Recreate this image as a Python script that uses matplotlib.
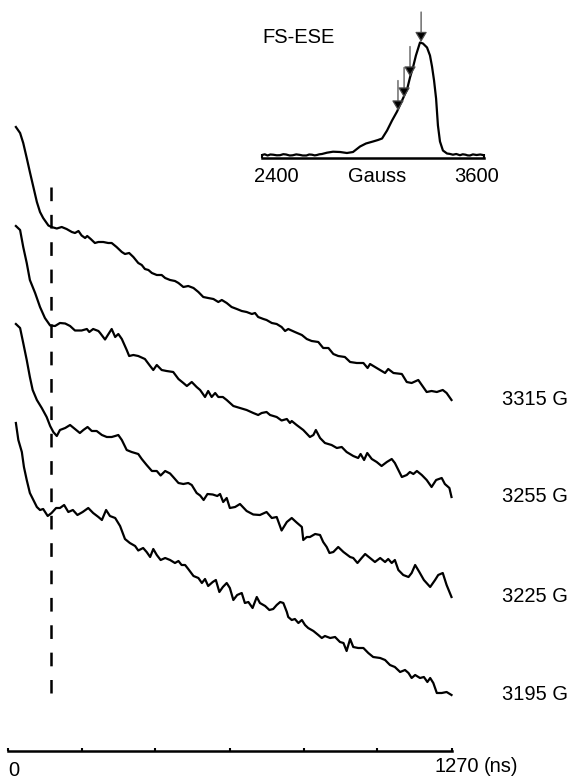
import numpy as np
import matplotlib
matplotlib.use('Agg')
import matplotlib.pyplot as plt

plt.rcParams['font.family'] = ['Liberation Sans', 'DejaVu Sans']
plt.rcParams['lines.scale_dashes'] = False

# ---------------- data ----------------
field_labels = ['3315 G', '3255 G', '3225 G', '3195 G']
trace_offsets = [351, 254, 154, 56]          # a.u. (stacking offsets)

t_3315 = [24, 36, 45, 55, 64, 74, 84, 93, 102, 117, 126, 141, 155, 169, 184, 193, 203, 212, 222, 228,
          238, 250, 260, 274, 288, 298, 312, 327, 336, 348, 360, 374, 384, 393, 403, 413, 427, 441, 451, 465,
          479, 489, 503, 517, 532, 546, 560, 574, 589, 603, 613, 627, 641, 656, 670, 684, 699, 708, 717, 732,
          741, 756, 770, 784, 794, 803, 822, 842, 856, 870, 889, 903, 918, 932, 946, 965, 980, 999, 1018, 1030,
          1037, 1056, 1080, 1089, 1104, 1128, 1142, 1156, 1175, 1189, 1199, 1213, 1228, 1245, 1256, 1270]
v_3315 = [273, 267, 257, 242, 228, 213, 198, 188, 182, 174.5, 173, 171.5, 173, 171, 168, 167, 169, 164.5, 162, 164,
          161, 157, 158, 158, 157, 157, 153, 148, 146, 147, 143, 137, 135, 131, 130, 127, 125, 125, 122, 120,
          119, 117, 113, 114, 112, 108, 103, 102, 101, 98, 100, 97, 93, 91, 89, 88, 86, 87, 83, 81,
          80, 77, 76, 73, 69, 71, 68, 65, 61, 59, 58, 52, 52, 46, 44, 43, 38, 37, 37, 32,
          36, 32, 27, 31, 27, 26, 18, 17, 20, 13, 8, 9, 8, 10, 7, 0]

t_3255 = [24, 36, 45, 55, 64, 79, 93, 107, 122, 136, 150, 165, 179, 193, 212, 227, 234, 245, 260, 265,
          279, 288, 298, 308, 317, 327, 341, 348, 360, 374, 393, 408, 417, 427, 441, 455, 474, 489, 503, 513,
          527, 541, 551, 565, 574, 584, 594, 603, 616, 627, 646, 665, 684, 703, 717, 727, 741, 751, 770, 784,
          799, 808, 813, 827, 846, 865, 875, 882, 894, 908, 927, 942, 956, 970, 989, 1003, 1010, 1020, 1029, 1042,
          1056, 1070, 1085, 1099, 1108, 1118, 1128, 1142, 1151, 1161, 1171, 1185, 1199, 1213, 1226, 1242, 1251, 1264, 1270]
v_3255 = [271, 267, 250, 234, 217, 204, 190, 179, 171.5, 171, 174, 173.5, 171, 166.5, 166.5, 168, 165, 168, 166, 164,
          157.5, 162.5, 168, 160, 163, 158, 147, 141, 142, 141, 138, 131, 127, 132, 127, 126, 125, 118, 114, 111,
          115, 110, 107, 100, 106, 100, 104, 100, 100, 97, 91, 89, 87, 84, 82, 84, 85, 82, 80, 76.5,
          78, 74, 76, 72, 67, 60, 62, 67, 59, 54, 52, 49, 50, 45, 41, 39, 43, 37, 44, 38,
          35, 31, 35, 38, 34, 27, 20, 22, 25, 23, 26, 22, 17, 10, 17, 19, 13, 9, 0]

t_3225 = [24, 36, 45, 55, 64, 72, 84, 98, 112, 122, 131, 141, 150, 165, 179, 193, 207, 217, 229, 241,
          255, 270, 284, 298, 308, 317, 327, 341, 355, 374, 384, 398, 413, 427, 438, 451, 465, 474, 489, 503,
          517, 527, 541, 551, 561, 572, 587, 600, 608, 617, 627, 636, 651, 665, 684, 703, 722, 741, 756, 770,
          784, 799, 813, 827, 842, 846, 856, 865, 880, 894, 903, 913, 921, 932, 946, 961, 980, 989, 1001, 1013,
          1023, 1037, 1051, 1066, 1080, 1089, 1099, 1108, 1118, 1132, 1147, 1156, 1166, 1178, 1191, 1209, 1223, 1232, 1245, 1256,
          1270]
v_3225 = [273, 269, 254, 237, 220, 207, 197, 189, 180, 171, 165, 161, 167, 169, 172, 168, 164, 167, 170, 166,
          166, 162, 160, 160, 161, 162, 157, 147, 145, 143, 138, 132, 126, 126, 121.5, 126, 123.5, 120, 114, 113,
          114, 112, 104, 101.5, 97, 103, 102.5, 101, 103, 95, 99, 89, 90, 93, 86, 82.5, 82, 85, 79, 80,
          66.5, 75, 79, 74.5, 70, 57, 60, 60, 63, 62, 55, 50, 44, 45, 50, 45, 40, 39, 34, 39,
          43, 39, 35, 39, 35, 38, 34, 37, 27, 22, 20, 24, 32, 25, 17, 10, 17, 22, 24, 12,
          0]

t_3195 = [24, 31, 41, 47, 55, 64, 74, 84, 93, 102, 115, 126, 139, 150, 162, 174, 187, 200, 215, 231,
          245, 260, 270, 282, 293, 308, 322, 336, 350, 365, 374, 388, 398, 408, 417, 427, 438, 451, 465, 479,
          489, 498, 508, 517, 532, 546, 556, 565, 574, 587, 596, 606, 616, 627, 636, 646, 657, 670, 679, 689,
          701, 713, 722, 737, 749, 760, 770, 780, 789, 799, 803, 813, 822, 832, 842, 851, 860, 875, 889, 899,
          908, 923, 937, 951, 961, 970, 980, 989, 1003, 1018, 1032, 1046, 1066, 1080, 1094, 1108, 1123, 1137, 1147, 1156,
          1166, 1180, 1191, 1201, 1209, 1218, 1228, 1242, 1256, 1270]
v_3195 = [272, 255, 243, 228, 215, 202, 195, 188, 185, 186, 179, 182, 187, 187, 190, 183, 185, 180, 183, 187,
          182, 178, 175, 185, 179, 177, 169, 156, 152, 149, 144.5, 147, 143, 138, 146, 140, 135, 137, 135, 132,
          134, 130, 130, 126, 119, 117, 112, 116, 109, 113, 115, 103, 108, 112, 107, 95, 100, 102, 92, 93,
          87, 98, 92, 89, 85, 86, 90, 93, 92, 83, 78, 75, 76, 72, 75, 70, 67, 64, 60, 57,
          59, 57, 58, 53, 52, 44, 56, 48, 47, 47, 42, 38, 37, 35, 30, 28, 23, 25, 22, 17,
          20, 17, 18, 13, 17, 12, 2, 2, 3, 0]

dash_time = 124            # ns
dash_span = [58, 564]      # a.u.
time_ticks = [0, 211.67, 423.33, 635, 846.67, 1058.33, 1270]

# inset: field-swept echo spectrum
ese_field = [2400, 2415, 2430, 2445, 2460, 2480, 2497, 2515, 2530, 2550, 2565, 2585, 2605, 2620, 2640, 2655,
             2670, 2685, 2697, 2710, 2724, 2751, 2784, 2822, 2859, 2892,
             2930, 2962, 3000, 3027, 3049, 3076, 3103, 3130, 3157, 3184, 3200, 3216, 3232, 3254, 3270, 3292,
             3308, 3319, 3330, 3341, 3351, 3362, 3378, 3400, 3415, 3432, 3450, 3470, 3485, 3500, 3512, 3524,
             3540, 3560, 3580, 3600]
ese_int = [0.5, 1.2, 0, 1, 0.8, 0.2, 0.3, 1.3, 1, 0, 0.2, 1.1, 0.6, 0, 0, 1,
           0.8, 0.1, 0.5, 1.2, 1.5, 2.8, 3.8, 3.5, 2.5, 3.5,
           9, 12, 14, 15.5, 17, 25, 35, 44, 55, 66, 78, 88, 100, 113, 112, 108,
           100, 89, 75, 57, 30, 14, 5, 2, 1.6, 0.8, 1.5, 0.3, 1.2, 0.8, 0.1, 0,
           1.1, 0.5, 1.0, 0.3]
arrow_field = [3260, 3200, 3168, 3135]
arrow_tip = [113.5, 79, 58, 45]
arrow_len = 30

# ---------------- figure ----------------
W, H = 570, 778
fig = plt.figure(figsize=(W / 100, H / 100), dpi=100)


def px_rect(x0, y0, x1, y1):
    return [x0 / W, 1 - y1 / H, (x1 - x0) / W, (y1 - y0) / H]


def ftext(x, y, s, **kw):
    fig.text(x / W, 1 - y / H, s, fontsize=14.5, **kw)


ax = fig.add_axes(px_rect(7.5, 100, 451.5, 751))
ax.set_xlim(0, 1270)
ax.set_ylim(0, 651)

traces = [(t_3315, v_3315), (t_3255, v_3255), (t_3225, v_3225), (t_3195, v_3195)]
for (t, v), off, lab in zip(traces, trace_offsets, field_labels):
    ax.plot(t, np.array(v) + off, color='black', lw=1.6, solid_joinstyle='round', clip_on=False)
    ax.text(1414, off + 1, lab, ha='left', va='center', fontsize=14.5, clip_on=False)

ax.plot([dash_time, dash_time], [dash_span[1], dash_span[0]], color='black', lw=1.8,
        linestyle=(0, (9.85, 9.85)))

for s in ['left', 'right', 'top']:
    ax.spines[s].set_visible(False)
ax.spines['bottom'].set_linewidth(1.8)
ax.set_xticks(time_ticks)
ax.set_yticks([])
ax.tick_params(axis='x', direction='in', length=2.5, width=1.5, labelbottom=False)

ftext(8, 770, '0', ha='left', va='center')
ftext(435, 766, '1270', ha='left', va='center')
ftext(484, 766, '(ns)', ha='left', va='center')

# inset
ax2 = fig.add_axes(px_rect(262, 8, 484, 158))
ax2.set_xlim(2400, 3600)
ax2.set_ylim(-2.5, 147.5)
ax2.patch.set_alpha(0)
ax2.plot(ese_field, ese_int, color='black', lw=1.6)
for f, tip in zip(arrow_field, arrow_tip):
    ax2.annotate('', xy=(f, tip), xytext=(f, tip + arrow_len),
                 arrowprops=dict(arrowstyle='-|>,head_length=0.5,head_width=0.3', ec='0.3', fc='black',
                                 lw=0.9, mutation_scale=12, shrinkA=0, shrinkB=0))
for s in ['left', 'right', 'top']:
    ax2.spines[s].set_visible(False)
ax2.spines['bottom'].set_linewidth(1.8)
ax2.set_xticks([2400, 3600])
ax2.set_yticks([])
ax2.tick_params(axis='x', direction='in', length=3, width=1.5, labelbottom=False)

ftext(262, 37.5, 'FS-ESE', ha='left', va='center')
ftext(276, 176.5, '2400', ha='center', va='center')
ftext(377, 177, 'Gauss', ha='center', va='center')
ftext(477, 176.5, '3600', ha='center', va='center')

fig.savefig('out.png', dpi=100)
